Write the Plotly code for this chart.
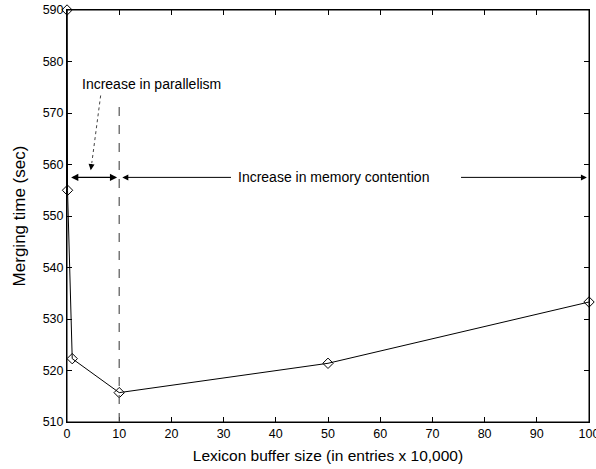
import plotly.graph_objects as go

buffer_size = [0.01, 0.1, 1, 10, 50, 100]
merge_time = [590, 555, 522.3, 515.7, 521.4, 533.3]

x_ticks = [0, 10, 20, 30, 40, 50, 60, 70, 80, 90, 100]
y_ticks = [510, 520, 530, 540, 550, 560, 570, 580, 590]

FONT = "Liberation Sans, Arial, sans-serif"

fig = go.Figure()
fig.add_trace(go.Scatter(
    x=buffer_size, y=merge_time, mode="lines+markers",
    line=dict(color="black", width=1),
    marker=dict(symbol="diamond-open", size=8, color="black", line=dict(width=1)),
    cliponaxis=False, showlegend=False,
))
# invisible trace to carry the mirrored top/right axes
fig.add_trace(go.Scatter(
    x=buffer_size, y=merge_time, mode="lines", line=dict(width=0), opacity=0,
    xaxis="x2", yaxis="y2", hoverinfo="skip", showlegend=False,
))

# frame around the plot area
fig.add_shape(type="rect", xref="paper", yref="paper", x0=0, x1=1, y0=0, y1=1,
              line=dict(color="black", width=1), layer="above")

# dashed vertical line at x=10
fig.add_shape(type="line", xref="x", yref="y", x0=10, x1=10, y0=510, y1=572.3,
              line=dict(color="#555555", width=1.2, dash="dash"))

# double arrow 0..10
fig.add_annotation(x=9.6, y=557.5, ax=0.5, ay=557.5, xref="x", yref="y", axref="x", ayref="y",
                   text="", showarrow=True, arrowhead=2, arrowside="end+start",
                   arrowsize=1.2, arrowwidth=1.2, arrowcolor="black", standoff=0, startstandoff=0)
# left arrow of memory contention
fig.add_annotation(x=10.6, y=557.5, ax=31.7, ay=557.5, xref="x", yref="y", axref="x", ayref="y",
                   text="", showarrow=True, arrowhead=2, arrowsize=1.2, arrowwidth=1,
                   arrowcolor="black", standoff=0)
# right arrow of memory contention
fig.add_annotation(x=99.6, y=557.5, ax=75.2, ay=557.5, xref="x", yref="y", axref="x", ayref="y",
                   text="", showarrow=True, arrowhead=2, arrowsize=1.2, arrowwidth=1,
                   arrowcolor="black", standoff=0)
fig.add_annotation(x=51, y=557.5, xref="x", yref="y", text="Increase in memory contention",
                   showarrow=False, font=dict(family=FONT, size=14, color="black"))

# parallelism label and dotted arrow
fig.add_annotation(x=16.2, y=575.6, xref="x", yref="y", text="Increase in parallelism",
                   showarrow=False, font=dict(family=FONT, size=14, color="black"))
fig.add_shape(type="line", xref="x", yref="y", x0=6.45, y0=573.4, x1=4.75, y1=560.3,
              line=dict(color="#444444", width=1, dash="dot"))
fig.add_annotation(x=4.55, y=558.9, ax=4.75, ay=560.4, xref="x", yref="y", axref="x", ayref="y",
                   text="", showarrow=True, arrowhead=2, arrowsize=1.2, arrowwidth=1,
                   arrowcolor="black", standoff=0)

axis_common = dict(showline=True, linecolor="black", linewidth=1,
                   ticks="inside", ticklen=5, tickcolor="black", showgrid=False, zeroline=False,
                   ticklabeloverflow="allow",
                   tickfont=dict(family=FONT, size=12.5, color="black"))

fig.update_layout(
    xaxis=dict(range=[0, 100], tickvals=x_ticks, ticktext=[str(v) for v in x_ticks],
               title=dict(text="Lexicon buffer size (in entries x 10,000)",
                          font=dict(family=FONT, size=15.5, color="black"), standoff=10),
               **axis_common),
    yaxis=dict(range=[510, 590], tickvals=y_ticks, ticktext=[str(v) for v in y_ticks],
               title=dict(text="Merging time (sec)",
                          font=dict(family=FONT, size=17, color="black"), standoff=12),
               **axis_common),
    xaxis2=dict(range=[0, 100], tickvals=x_ticks, overlaying="x", side="top",
                showticklabels=False, anchor="y", **axis_common),
    yaxis2=dict(range=[510, 590], tickvals=y_ticks, overlaying="y", side="right",
                showticklabels=False, anchor="x", **axis_common),
)

fig.update_layout(width=596, height=469, plot_bgcolor="white", paper_bgcolor="white",
                  margin=dict(l=67, r=7, t=10, b=47, autoexpand=False))

fig.write_html("out.html", config={"displayModeBar": False},
               post_script="document.body.style.margin='0';document.body.style.overflow='hidden';")
